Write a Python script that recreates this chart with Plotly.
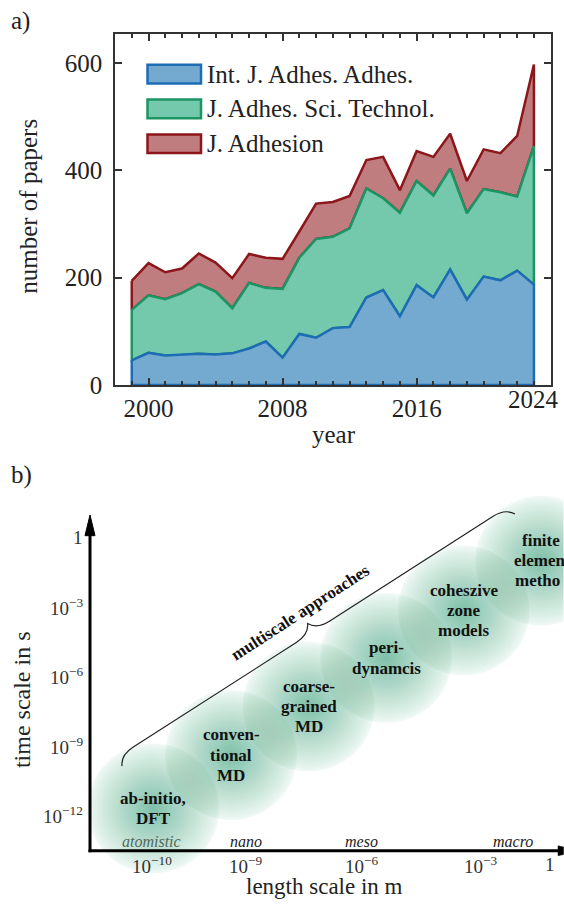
import math
import numpy as np
import plotly.graph_objects as go

FONT = "Liberation Serif"
INK = "#222222"
W, H = 564, 914

# ---------------- a) papers per year in three adhesion journals ----------------
years = list(range(1999, 2024))
ijaa = [46, 60, 55, 56, 58, 57, 59, 68, 81, 51, 95, 88, 106, 108, 163, 177, 128,
        186, 163, 215, 159, 202, 195, 213, 187]
jast = [94, 107, 105, 115, 130, 117, 84, 122, 100, 128, 142, 184, 170, 184, 203,
        171, 193, 194, 190, 188, 161, 163, 164, 138, 258]
jadh = [54, 60, 50, 46, 57, 54, 56, 54, 56, 56, 49, 66, 65, 60, 53, 77, 42, 56,
        72, 65, 60, 74, 73, 113, 152]
journals = ["Int. J. Adhes. Adhes.", "J. Adhes. Sci. Technol.", "J. Adhesion"]
fill_colors = ["rgb(116,170,208)", "rgb(116,200,172)", "rgb(192,125,128)"]
line_colors = ["rgb(30,108,182)", "rgb(28,148,100)", "rgb(140,22,26)"]
year_ticks = [2000, 2008, 2016]
end_year_label = "2024"
paper_ticks = [0, 200, 400, 600]

# ---------------- b) length and time scales of simulation methods ----------------
methods = ["ab-initio,<br>DFT", "conven-<br>tional<br>MD", "coarse-<br>grained<br>MD",
           "peri-<br>dynamcis", "coheszive<br>zone<br>models", "finite<br>element<br>method"]
method_length = [2.7, 6.0, 9.3, 12.6, 15.9, 19.2]      # position on the length axis
method_log_time = [-11.7, -9.4, -7.3, -5.2, -3.15, -1.0]  # log10 of time in s
method_radius = 2.8
time_ticks = [0, -3, -6, -9, -12]
time_tick_text = ["1", "10<sup>−3</sup>", "10<sup>−6</sup>", "10<sup>−9</sup>", "10<sup>−12</sup>"]
length_ticks = [2.63, 6.63, 11.56, 16.6, 19.57]
length_tick_text = ["10<sup>−10</sup>", "10<sup>−9</sup>", "10<sup>−6</sup>", "10<sup>−3</sup>", "1"]
regimes = ["atomistic", "nano", "meso", "macro"]
regime_pos = [2.63, 6.63, 11.56, 18.0]
regime_colors = ["#52695f", INK, INK, INK]

# advance widths of the bold serif face (per 1000 em), used to keep labels on the page
BOLD_W = dict(a=500, b=556, c=444, d=556, e=444, f=333, g=500, h=556, i=278, j=333, k=556,
              l=278, m=833, n=556, o=500, p=556, q=556, r=444, s=389, t=333, u=556, v=500,
              w=722, x=500, y=500, z=444, D=722, F=611, T=667, M=944)
BOLD_W.update({"-": 333, ",": 250, " ": 250})


def px(x):
    return x / W


def py(y):
    return 1 - y / H


def label(text, x, y, size, color=INK, **kw):
    d = dict(text=text, xref="paper", yref="paper", x=px(x), y=py(y),
             xanchor="center", yanchor="middle", showarrow=False, borderpad=0,
             font=dict(family=FONT, size=size, color=color))
    d.update(kw)
    return d


fig = go.Figure()

# stacked areas, drawn top series first so lower outlines stay on top
cum = np.cumsum(np.array([ijaa, jast, jadh]), axis=0)
lower = [np.zeros(len(years)), cum[0], cum[1]]
for i in reversed(range(3)):
    top, bot = cum[i], lower[i]
    xs = years + years[::-1] + [years[0]]
    ys = list(top) + list(bot[::-1]) + [top[0]]
    fig.add_trace(go.Scatter(
        x=xs, y=ys, mode="lines", fill="toself", fillcolor=fill_colors[i],
        line=dict(color=line_colors[i], width=2.5), name=journals[i],
        showlegend=False, hoverinfo="skip", xaxis="x", yaxis="y"))

# legend drawn as swatches and labels
legend_rows = [75.3, 110.6, 146.0]
shapes = []
annotations = []
for i, row in enumerate(legend_rows):
    shapes.append(dict(type="rect", xref="paper", yref="paper",
                       x0=px(147.5), x1=px(201.0), y0=py(row + 9.5), y1=py(row - 9.5),
                       fillcolor=fill_colors[i], line=dict(color=line_colors[i], width=2.5)))
    annotations.append(label(journals[i], 206, row, 25, xanchor="left"))

annotations += [
    dict(text=end_year_label, xref="x", yref="paper", x=years[-1], y=py(405.5),
         xanchor="center", yanchor="middle", showarrow=False, borderpad=0,
         font=dict(family=FONT, size=25, color=INK)),
    label("number of papers", 29, 210, 25, textangle=-90),
    label("year", 334, 441, 25),
    label("a)", 20, 21, 25),
]

# ---------------- panel b geometry ----------------
S = 23.5                     # pixels per unit on both panel-b axes
X0_PX, Y0_PX = 90.0, 546.0   # pixel position of the length-axis origin / time = 1 s
BX_L, BX_R = 60.0, 564.0
BY_T, BY_B = 500.0, 900.0


def bu(x):
    return (x - X0_PX) / S


def bv(y):
    return (Y0_PX - y) / S


def to_px(u):
    return X0_PX + u * S


axis_v = bv(864)
axis_u = bu(90)

# soft radial blobs built from stacked translucent discs, cut at the page edge
N_RINGS = 30
base = (45, 160, 115)
theta = np.linspace(0, 2 * np.pi, 97)
u_edge = bu(W - 0.5)


def profile(rn):
    return 0.075 + 0.48 * max(0.0, 1 - rn) ** 0.9


prev = 0.0
for k in range(N_RINGS):
    rn = 1 - k / N_RINGS
    target = profile(rn - 0.5 / N_RINGS) if k else profile(0.999)
    a = 1 - (1 - target) / (1 - prev)
    prev = target
    r = method_radius * rn
    color = f"rgba({base[0]},{base[1]},{base[2]},{a:.4f})"
    for u, v in zip(method_length, method_log_time):
        fig.add_trace(go.Scatter(
            x=np.minimum(u + r * np.cos(theta), u_edge), y=v + r * np.sin(theta),
            mode="none", fill="toself", fillcolor=color, xaxis="x2", yaxis="y2",
            showlegend=False, hoverinfo="skip"))

# method names, one annotation per line; lines running past the page edge are cut there
LINE_GAP = 20.5
M_SIZE = 17
for name, u, v in zip(methods, method_length, method_log_time):
    lines = name.split("<br>")
    cx = to_px(u)
    for j, line in enumerate(lines):
        vy = v - (j - (len(lines) - 1) / 2) * LINE_GAP / S
        width = sum(BOLD_W.get(ch, 500) for ch in line) * M_SIZE / 1000
        left = cx - width / 2
        shown = line
        while shown and left + sum(BOLD_W.get(ch, 500) for ch in shown) * M_SIZE / 1000 > W - 0.05:
            shown = shown[:-1]
        common = dict(xref="x2", yref="y2", y=vy, yanchor="middle", showarrow=False,
                      borderpad=0, font=dict(family=FONT, size=M_SIZE, color="#111"))
        if shown == line:
            annotations.append(dict(text=f"<b>{line}</b>", x=u, xanchor="center", **common))
        else:
            annotations.append(dict(text=f"<b>{shown}</b>", x=bu(left), xanchor="left", **common))

# axes with arrow heads (the horizontal head is cut by the page edge)
shapes += [
    dict(type="line", xref="x2", yref="y2", x0=axis_u, x1=axis_u, y0=bv(865.5), y1=bv(540),
         line=dict(color="black", width=3), layer="above"),
    dict(type="line", xref="x2", yref="y2", x0=bu(88.5), x1=bu(562), y0=axis_v, y1=axis_v,
         line=dict(color="black", width=3), layer="above"),
    dict(type="path", xref="x2", yref="y2", layer="above", fillcolor="black",
         line=dict(color="black", width=1),
         path=f"M {bu(85)},{bv(544)} L {bu(90)},{bv(523)} L {bu(95)},{bv(544)} Z"),
    dict(type="path", xref="x2", yref="y2", layer="above", fillcolor="black",
         line=dict(color="black", width=0.5),
         path=(f"M {bu(558)},{bv(859)} L {bu(563.5)},{bv(860.2)} L {bu(563.5)},{bv(867.8)} "
               f"L {bu(558)},{bv(869)} Z")),
]

# curly brace over the multiscale range
P0 = np.array([122.0, 778.0])
P1 = np.array([515.0, 522.0])
L = float(np.linalg.norm(P1 - P0))
t = (P1 - P0) / L
n = np.array([t[1], -t[0]])
amp = 20.0


def loc(s, w):
    p = P0 + s * t + w * n
    return f"{bu(p[0]):.4f},{bv(p[1]):.4f}"


h = L / 2
brace = (f"M {loc(0, 0)} C {loc(0.15*amp, 0.3*amp)} {loc(0.5*amp, 0.5*amp)} {loc(amp, 0.5*amp)} "
         f"L {loc(h-amp, 0.5*amp)} C {loc(h-0.5*amp, 0.5*amp)} {loc(h-0.15*amp, 0.7*amp)} {loc(h, amp)} "
         f"C {loc(h+0.15*amp, 0.7*amp)} {loc(h+0.5*amp, 0.5*amp)} {loc(h+amp, 0.5*amp)} "
         f"L {loc(L-amp, 0.5*amp)} C {loc(L-0.5*amp, 0.5*amp)} {loc(L-0.15*amp, 0.3*amp)} {loc(L, 0)}")
shapes.append(dict(type="path", xref="x2", yref="y2", path=brace, layer="above",
                   line=dict(color="#222", width=1.2)))
mid = P0 + h * t + 33 * n
angle = math.degrees(math.atan2(P0[1] - P1[1], P1[0] - P0[0]))
annotations.append(dict(text="<b>multiscale approaches</b>", xref="x2", yref="y2",
                        x=bu(mid[0]), y=bv(mid[1]), textangle=-angle, showarrow=False,
                        xanchor="center", yanchor="middle", borderpad=0,
                        font=dict(family=FONT, size=17, color="#111")))

# tick labels, regime names and axis titles
for u, txt in zip(length_ticks, length_tick_text):
    annotations.append(dict(text=txt, xref="x2", yref="y2", x=u, y=axis_v, yshift=-14,
                            xanchor="center", yanchor="middle", showarrow=False, borderpad=0,
                            font=dict(family=FONT, size=19, color="#333")))
for v, txt in zip(time_ticks, time_tick_text):
    annotations.append(dict(text=txt, xref="x2", yref="y2", x=axis_u, y=v, xshift=-6,
                            xanchor="right", yanchor="middle", showarrow=False, borderpad=0,
                            font=dict(family=FONT, size=19, color="#333")))
for u, txt, c in zip(regime_pos, regimes, regime_colors):
    annotations.append(dict(text=f"<i>{txt}</i>", xref="x2", yref="y2", x=u, y=axis_v,
                            yshift=9, xanchor="center", yanchor="middle", showarrow=False,
                            borderpad=0, font=dict(family=FONT, size=16, color=c)))
annotations += [
    label("length scale in m", 324, 900, 23),
    label("time scale in s", 22, 711, 24, textangle=-90),
    label("b)", 21, 482, 25),
]

frame = dict(showline=True, linecolor="#333", linewidth=1.5, mirror="ticks",
             showgrid=False, zeroline=False, ticks="inside", ticklen=7, tickwidth=1.5,
             tickcolor="#333", tickfont=dict(family=FONT, size=25, color=INK))

fig.update_layout(
    width=W, height=H, margin=dict(l=0, r=0, t=0, b=0),
    paper_bgcolor="white", plot_bgcolor="white", showlegend=False,
    xaxis=dict(domain=[px(115), px(550.7)], range=[1998.0, 2024.0], anchor="y",
               tickmode="array", tickvals=year_ticks, ticktext=[str(y) for y in year_ticks],
               minor=dict(tickmode="linear", tick0=1999, dtick=1, ticks="inside",
                          ticklen=4, tickwidth=1.5, tickcolor="#333"),
               **frame),
    yaxis=dict(domain=[py(391), py(35)], range=[0, 653], anchor="x",
               tickmode="array", tickvals=paper_ticks, ticklabelstandoff=6, **frame),
    xaxis2=dict(domain=[px(BX_L), px(BX_R)], range=[bu(BX_L), bu(BX_R)], anchor="y2",
                visible=False),
    yaxis2=dict(domain=[py(BY_B), py(BY_T)], range=[bv(BY_B), bv(BY_T)], anchor="x2",
                visible=False),
    shapes=shapes, annotations=annotations,
)

fig.write_html("out.html", post_script="document.body.style.margin='0';")
